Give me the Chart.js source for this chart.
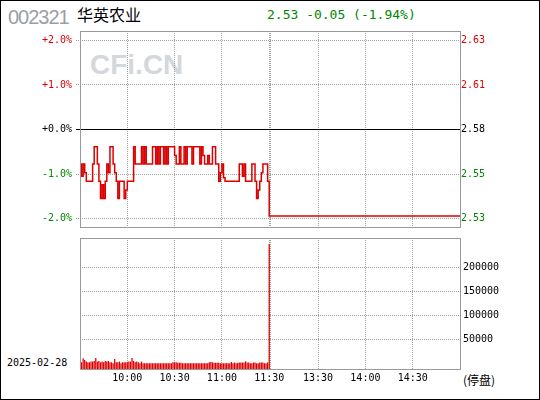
<!DOCTYPE html>
<html>
<head>
<meta charset="utf-8">
<script src="https://cdn.jsdelivr.net/npm/chart.js@4.4.1/dist/chart.umd.min.js"></script>
<style>
  body { margin: 0; background: #fff; }
  #page { position: relative; width: 540px; height: 400px; overflow: hidden; background: #fff; }
  #page canvas { position: absolute; left: 0; }
  .txt { position: absolute; white-space: nowrap; }
  #code { left: 8px; top: 7px; font: 20px/20px "Liberation Sans", Arial, sans-serif; letter-spacing: -1px; color: #9a9ea5; }
  #name { left: 77px; top: 6px; font: 16px/16px "Noto Sans CJK SC", sans-serif; color: #000; }
  #quote { left: 267px; top: 7px; font: 13px/15px "DejaVu Sans Mono", monospace; color: #008800; }
  #mark { left: 90px; top: 51px; font: bold 28px/28px "Liberation Sans", Arial, sans-serif; color: #d4d7db; }
  #date { left: 7px; top: 357px; font: 10px/12px "DejaVu Sans Mono", monospace; color: #000; }
  #halt { left: 463px; top: 374px; font: 12px/12px "Noto Sans CJK SC", sans-serif; color: #000; }
  #border { position: absolute; left: 0; top: 0; width: 538px; height: 398px; border: 1px solid #000; pointer-events: none; }
</style>
</head>
<body>
<div id="page">
  <div class="txt" id="mark">CFi.CN</div>
  <div class="txt" id="code">002321</div>
  <div class="txt" id="name">华英农业</div>
  <div class="txt" id="quote">2.53 -0.05 (-1.94%)</div>
  <div class="txt" id="date">2025-02-28</div>
  <div class="txt" id="halt">(停盘)</div>
  <canvas id="priceChart" width="540" height="240" style="top:0"></canvas>
  <canvas id="volChart" width="540" height="180" style="top:220px"></canvas>
  <div id="border"></div>
</div>
<script>
// --- data ---
const prevClose = 2.58;

// minute-by-minute price, 9:30 .. 11:30 (index 0..120)
const amPrices = [
  2.56, 2.553, 2.56, 2.555, 2.55, 2.55, 2.55, 2.55, 2.56, 2.57,
  2.57, 2.56, 2.55, 2.54, 2.548, 2.54, 2.55, 2.56, 2.555, 2.57,
  2.57, 2.56, 2.555, 2.55, 2.54, 2.55, 2.55, 2.55, 2.54, 2.545,
  2.55, 2.55, 2.55, 2.55, 2.57, 2.56, 2.56, 2.56, 2.56, 2.57,
  2.56, 2.57, 2.56, 2.56, 2.56, 2.56, 2.57, 2.57, 2.56, 2.57,
  2.56, 2.57, 2.57, 2.56, 2.57, 2.56, 2.57, 2.57, 2.57, 2.57,
  2.565, 2.56, 2.56, 2.57, 2.56, 2.56, 2.57, 2.56, 2.57, 2.57,
  2.57, 2.56, 2.57, 2.57, 2.57, 2.57, 2.56, 2.57, 2.565, 2.56,
  2.56, 2.565, 2.56, 2.56, 2.57, 2.57, 2.56, 2.56, 2.55, 2.555,
  2.56, 2.552, 2.55, 2.55, 2.55, 2.55, 2.55, 2.55, 2.55, 2.55,
  2.55, 2.56, 2.56, 2.553, 2.56, 2.55, 2.55, 2.55, 2.55, 2.56,
  2.56, 2.55, 2.54, 2.545, 2.55, 2.555, 2.56, 2.56, 2.56, 2.55,
  2.53
];
// afternoon (suspended): 13:00 and 15:00
const pmMinutes = [121, 241];
const pmPrices = [2.53, 2.53];

// volume per minute, 9:31 .. 11:30 (index 1..120)
const volumes = [
  2500, 11000, 7500, 4000, 2500, 2500, 4000, 4000, 5300, 11500,
  4000, 5300, 2500, 4000, 2500, 5300, 4000, 5300, 2500, 2500,
  500, 9500, 2500, 2500, 4000, 500, 2500, 2500, 2500, 2500,
  4000, 4000, 11500, 5300, 2500, 4000, 2500, 500, 4000, 500,
  500, 500, 500, 500, 500, 500, 500, 500, 500, 500,
  500, 500, 500, 500, 500, 500, 500, 500, 2500, 2500,
  2500, 1500, 1500, 1500, 500, 500, 500, 500, 500, 500,
  500, 500, 500, 500, 500, 500, 500, 500, 500, 500,
  500, 2500, 3000, 2500, 1500, 1500, 1500, 1500, 500, 500,
  500, 500, 500, 500, 500, 3000, 500, 2000, 500, 1500,
  2000, 2000, 2000, 2000, 4600, 2000, 2000, 500, 500, 2000,
  2000, 500, 500, 2000, 2000, 2000, 500, 500, 2000, 249000
];

const gridMinutes = [30, 60, 90, 120, 121, 151, 181, 211];
const timeLabels = ['10:00', '10:30', '11:00', '11:30', '', '13:30', '14:00', '14:30'];
const pctTicks = [2, 1, 0, -1, -2];
const pctLabels = ['+2.0%', '+1.0%', '+0.0%', '-1.0%', '-2.0%'];
const priceLabels = ['2.63', '2.61', '2.58', '2.55', '2.53'];
const volTicks = [50000, 100000, 150000, 200000];

const PCT_LIMIT = 2.21;
const VOL_MIN = -13540;
const VOL_MAX = 261460;
const LAST_MINUTE = 241;

// --- styles ---
const RED = '#dd0000';
const GREEN = '#008800';
const GRID = '#a0a0a0';
const FRAME = '#999999';
const TICK_FONT = { family: '"DejaVu Sans Mono", monospace', size: 10 };

const toPct = p => (p / prevClose - 1) * 100;
const signColor = v => v > 0 ? RED : (v < 0 ? GREEN : '#000');

const framePlugin = {
  id: 'frame',
  afterDatasetsDraw(chart) {
    const a = chart.chartArea;
    const c = chart.ctx;
    c.save();
    c.strokeStyle = FRAME;
    c.lineWidth = 1;
    c.strokeRect(a.left + 0.5, a.top + 0.5, a.right - a.left, a.bottom - a.top - 1);
    c.restore();
  }
};

const setTicks = list => scale => { scale.ticks = list.map(v => ({ value: v })); };

const pricePoints = amPrices.map((p, i) => ({ x: i, y: toPct(p) }))
  .concat(pmMinutes.map((m, i) => ({ x: m, y: toPct(pmPrices[i]) })));

new Chart(document.getElementById('priceChart'), {
  type: 'line',
  data: {
    datasets: [{
      data: pricePoints,
      borderColor: RED,
      borderWidth: 1.5,
      pointRadius: 0,
      stepped: true,
      tension: 0
    }]
  },
  options: {
    responsive: false,
    animation: false,
    devicePixelRatio: 1,
    events: [],
    layout: { padding: { top: 31, left: 0, right: 0, bottom: 0 } },
    plugins: { legend: { display: false }, tooltip: { enabled: false } },
    scales: {
      x: {
        type: 'linear',
        min: 0,
        max: LAST_MINUTE,
        afterBuildTicks: setTicks(gridMinutes),
        afterFit: s => { s.height = 12; },
        ticks: { display: false },
        grid: { color: GRID, drawTicks: false },
        border: { display: false, dash: [1, 1] }
      },
      y: {
        position: 'left',
        min: -PCT_LIMIT,
        max: PCT_LIMIT,
        afterBuildTicks: setTicks(pctTicks),
        afterFit: s => { s.width = 80; },
        ticks: {
          font: TICK_FONT,
          padding: 4,
          color: ctx => signColor(ctx.tick.value),
          callback: v => pctLabels[pctTicks.indexOf(v)]
        },
        grid: {
          color: ctx => ctx.tick && ctx.tick.value === 0 ? '#000' : GRID,
          tickColor: ctx => ctx.tick && ctx.tick.value === 0 ? '#000' : GRID,
          tickLength: 4,
          tickBorderDash: ctx => ctx.tick && ctx.tick.value === 0 ? [] : [1, 1]
        },
        border: {
          display: false,
          dash: ctx => ctx.tick && ctx.tick.value === 0 ? [] : [1, 1]
        }
      },
      yp: {
        position: 'right',
        min: -PCT_LIMIT,
        max: PCT_LIMIT,
        afterBuildTicks: setTicks(pctTicks),
        afterFit: s => { s.width = 80; },
        ticks: {
          font: TICK_FONT,
          padding: 1,
          color: ctx => signColor(ctx.tick.value),
          callback: v => priceLabels[pctTicks.indexOf(v)]
        },
        grid: { drawOnChartArea: false, drawTicks: false },
        border: { display: false }
      }
    }
  },
  plugins: [framePlugin]
});

new Chart(document.getElementById('volChart'), {
  type: 'bar',
  data: {
    datasets: [{
      data: volumes.map((v, i) => ({ x: i + 1, y: [VOL_MIN, v] })),
      backgroundColor: RED,
      borderWidth: 0,
      barPercentage: 0.8,
      categoryPercentage: 1
    }]
  },
  options: {
    responsive: false,
    animation: false,
    devicePixelRatio: 1,
    events: [],
    layout: { padding: { top: 18, left: 80, right: 0, bottom: 0 } },
    plugins: { legend: { display: false }, tooltip: { enabled: false } },
    scales: {
      x: {
        type: 'linear',
        min: 0,
        max: LAST_MINUTE,
        offset: false,
        afterBuildTicks: setTicks(gridMinutes),
        afterFit: s => { s.height = 30; },
        ticks: {
          font: TICK_FONT,
          color: '#000',
          padding: 2,
          maxRotation: 0,
          autoSkip: false,
          callback: v => timeLabels[gridMinutes.indexOf(v)]
        },
        grid: { color: GRID, drawTicks: false, offset: false },
        border: { display: false, dash: [1, 1] }
      },
      y: {
        position: 'right',
        min: VOL_MIN,
        max: VOL_MAX,
        afterBuildTicks: setTicks(volTicks),
        afterFit: s => { s.width = 80; },
        ticks: {
          font: TICK_FONT,
          color: '#000',
          padding: 3,
          callback: v => String(v)
        },
        grid: { color: GRID, drawTicks: false },
        border: { display: false, dash: [1, 1] }
      }
    }
  },
  plugins: [framePlugin]
});
</script>
</body>
</html>
